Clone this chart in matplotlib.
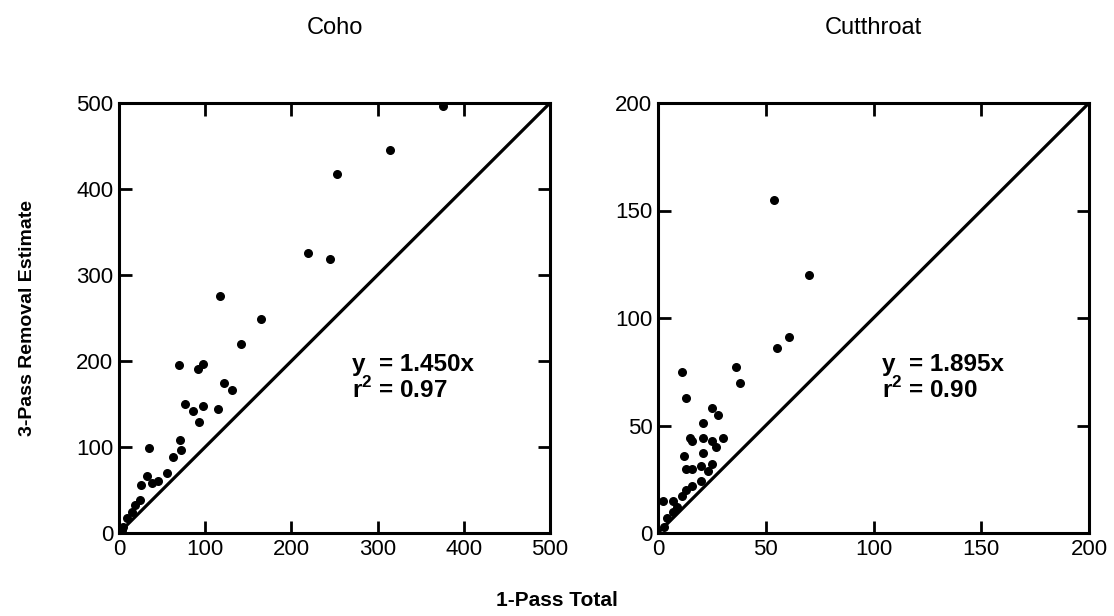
import matplotlib
matplotlib.use("Agg")
import matplotlib.pyplot as plt

plt.rcParams['font.family'] = ['Liberation Sans', 'DejaVu Sans']
plt.rcParams['mathtext.fontset'] = 'custom'
plt.rcParams['mathtext.bf'] = 'Liberation Sans:bold'
plt.rcParams['mathtext.rm'] = 'Liberation Sans:bold'

# Coho: 1-pass total vs 3-pass removal estimate
coho_x = [376, 314, 253, 219, 245, 117, 165, 141, 70, 92, 97, 122, 131, 77, 86, 97,
          115, 93, 35, 71, 72, 63, 56, 32, 45, 26, 38, 24, 19, 15, 9, 5, 3]
coho_y = [497, 445, 418, 326, 319, 276, 249, 220, 195, 191, 197, 175, 166, 150, 142, 148,
          144, 129, 99, 108, 97, 88, 70, 66, 60, 56, 58, 38, 33, 25, 17, 7, 3]

# Cutthroat
cut_x = [54, 70, 61, 55, 36, 38, 25, 28, 21, 30, 21, 25, 27, 16, 21, 25, 20, 23, 16, 20,
         16, 11, 13, 15, 12, 13, 2.5, 7, 11, 9, 7, 4, 3, 13]
cut_y = [155, 120, 91, 86, 77, 70, 58, 55, 51, 44, 44, 43, 40, 43, 37, 32, 31, 29, 30, 24,
         22, 75, 63, 44, 36, 30, 15, 15, 17, 12, 10, 7, 3, 20]

panels = [
    ("Coho", coho_x, coho_y, 500, [0, 100, 200, 300, 400, 500], "y  = 1.450x", "0.97", (270, 180)),
    ("Cutthroat", cut_x, cut_y, 200, [0, 50, 100, 150, 200], "y  = 1.895x", "0.90", (104, 72)),
]

fig = plt.figure(figsize=(11.14, 6.16), dpi=100)
lefts = [119 / 1114, 658 / 1114]

for left, (title, xs, ys, lim, ticks, eq, r2, pos) in zip(lefts, panels):
    ax = fig.add_axes([left, 83 / 616, 431 / 1114, 430 / 616])
    ax.plot([0, lim], [0, lim], color="black", lw=2.3, solid_capstyle="butt")
    ax.scatter(xs, ys, s=30, color="black", zorder=3, clip_on=False)
    ax.set_xlim(0, lim)
    ax.set_ylim(0, lim)
    ax.set_xticks(ticks)
    ax.set_yticks(ticks)
    ax.tick_params(direction="in", length=9, width=2, top=True, right=True,
                   labelsize=16, pad=4)
    for sp in ax.spines.values():
        sp.set_linewidth(2.2)
    ax.set_title(title, fontsize=17, pad=50)
    ax.text(pos[0], pos[1], eq + "\n" + r"r$^\mathbf{2}$ = " + r2, fontsize=17.5,
            fontweight="bold", linespacing=1.05, va="center")

fig.text(28 / 1114, 1 - 318 / 616, "3-Pass Removal Estimate", rotation=90,
         ha="center", va="center", fontsize=14, fontweight="bold")
fig.text(557 / 1114, 1 - 600 / 616, "1-Pass Total", ha="center", va="center",
         fontsize=15, fontweight="bold")

fig.savefig("out.png", dpi=100)
